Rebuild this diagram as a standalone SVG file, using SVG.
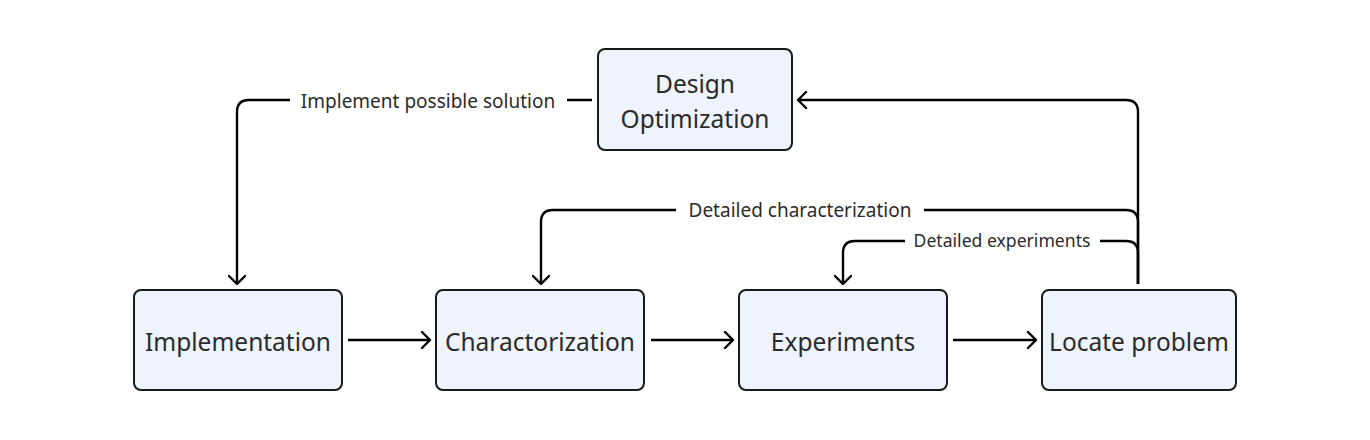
<svg xmlns="http://www.w3.org/2000/svg" width="1370" height="440" viewBox="0 0 1370 440">
<defs>
<marker id="arr" markerWidth="12" markerHeight="18" refX="10" refY="9" orient="auto" markerUnits="userSpaceOnUse">
<path d="M2,1 L10,9 L2,17" fill="none" stroke="#000" stroke-width="2.4" stroke-linecap="round" stroke-linejoin="round"/>
</marker>
<style>
.node rect{fill:#eef3fc;stroke:#1a1a1a;stroke-width:2}
.node text{font-family:"Noto Sans","Open Sans",sans-serif;font-size:24.5px;fill:#2b2b2b;text-anchor:middle}
.edge{fill:none;stroke:#000;stroke-width:2.4;marker-end:url(#arr)}
.lbg{fill:#fff}
.lbl{font-family:"Noto Sans","Open Sans",sans-serif;font-size:19px;fill:#2b2b2b;text-anchor:middle}
.lbl.sm{font-size:17.6px}
</style>
</defs>
<rect width="1370" height="440" fill="#fff"/>
<g id="connectors">
<path class="edge" d="M348,340 H430"/>
<path class="edge" d="M651,340 H733"/>
<path class="edge" d="M953,340 H1036"/>
<path class="edge" d="M1138,284 V112 Q1138,100 1126,100 H798"/>
<path class="edge" d="M1138,284 V222 Q1138,210 1126,210 H553 Q541,210 541,222 V284"/>
<path class="edge" d="M1138,284 V253 Q1138,241 1126,241 H855 Q843,241 843,253 V284"/>
<path class="edge" d="M592,100 H249 Q237,100 237,112 V284"/>
<rect class="lbg" x="290" y="87" width="277" height="28"/>
<text class="lbl" x="428" y="108">Implement possible solution</text>
<rect class="lbg" x="676" y="197" width="248" height="28"/>
<text class="lbl" x="800" y="217">Detailed characterization</text>
<rect class="lbg" x="905" y="229" width="195" height="26"/>
<text class="lbl sm" x="1002" y="247">Detailed experiments</text>
</g>
<g id="design-optimization" class="node">
<rect x="598" y="49" width="194" height="101" rx="7"/>
<text x="695" y="93">Design</text>
<text x="695" y="128">Optimization</text>
</g>
<g id="implementation" class="node">
<rect x="134" y="290" width="208" height="100" rx="7"/>
<text x="238" y="351">Implementation</text>
</g>
<g id="charactorization" class="node">
<rect x="436" y="290" width="208" height="100" rx="7"/>
<text x="540" y="351">Charactorization</text>
</g>
<g id="experiments" class="node">
<rect x="739" y="290" width="208" height="100" rx="7"/>
<text x="843" y="351">Experiments</text>
</g>
<g id="locate-problem" class="node">
<rect x="1042" y="290" width="194" height="100" rx="7"/>
<text x="1139" y="351">Locate problem</text>
</g>
</svg>
